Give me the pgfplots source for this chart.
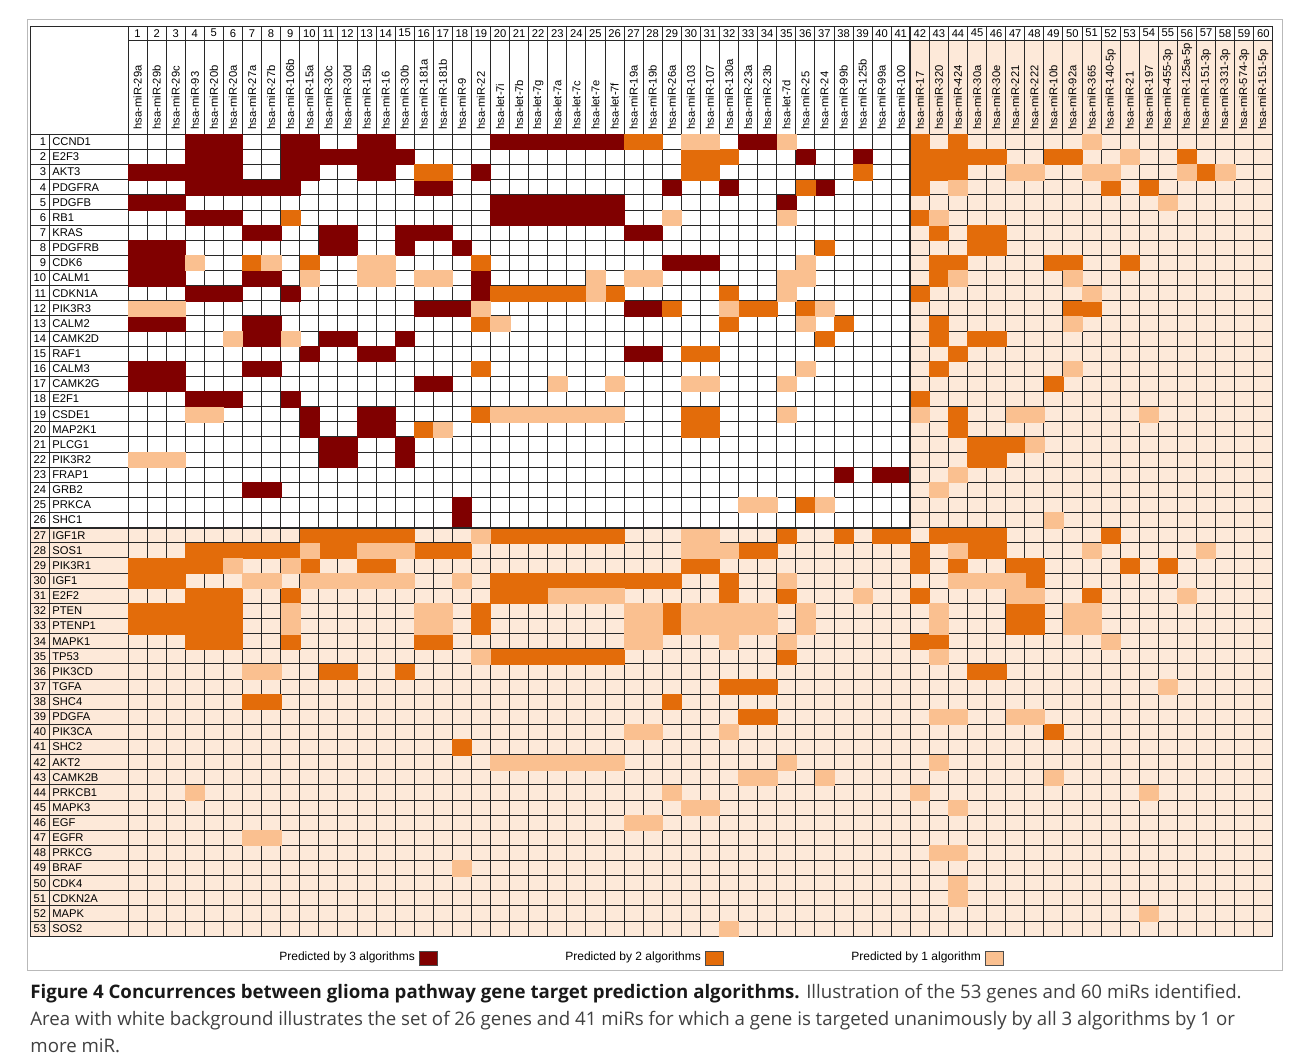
\documentclass[border=0pt]{standalone}
\usepackage{fontspec}
\setmainfont{Liberation Sans}
\newfontfamily\capfont{Open Sans}
\usepackage{pgfplots}
\pgfplotsset{compat=1.18}
\definecolor{cthree}{RGB}{128,0,0}
\definecolor{ctwo}{RGB}{227,108,10}
\definecolor{cone}{RGB}{250,192,144}
\definecolor{cbg}{RGB}{253,233,217}
\definecolor{gridc}{RGB}{40,40,40}
\newcommand{\tbl}{\fontsize{5.6}{6.5}\selectfont}
\pgfplotsset{cell/.style={only marks, mark=square*, mark size=0.5pt,
  mark options={fill=#1, draw=#1, line width=0.1pt, xscale=9.54, yscale=7.565},
  legend image code/.code={\fill[#1, draw=black!70, line width=0.3pt] (0pt,-3.5pt) rectangle (9pt,3.5pt);}}}
\begin{document}
\begin{tikzpicture}[x=1pt,y=1pt]
\useasboundingbox (0,0) rectangle (645,531);
\fill[white] (0,0) rectangle (645,531);
\draw[gray!55, line width=0.5pt] (13.5,46) rectangle (641,521);
% backgrounds
\fill[cbg] (15,62.905) rectangle (636.4,267.16);
\fill[cbg] (455.14,267.16) rectangle (636.4,510.75);
\begin{axis}[at={(64pt,463.85pt)}, anchor=north west,
  x=9.54pt, y=7.565pt, y dir=reverse,
  xmin=0.5, xmax=60.5, ymin=0.5, ymax=53.5,
  axis on top, clip=false,
  xtick={0.5,1.5,...,60.5}, ytick={0.5,1.5,...,53.5},
  xticklabels={}, yticklabels={}, major tick length=0pt,
  grid=major, grid style={gridc, line width=0.45pt},
  axis line style={gridc, line width=0.45pt},
  legend columns=3, legend plot pos=right,
  legend style={at={(0.1284,-0.0272)}, anchor=west, draw=none, fill=none,
    inner sep=0pt, font=\fontsize{6}{7}\selectfont,
    /tikz/every even column/.append style={column sep=62pt}},
]
\addplot[cell=cthree] coordinates {
(4,1)(5,1)(6,1)(9,1)(10,1)(13,1)(14,1)(20,1)(21,1)(22,1)(23,1)(24,1)(25,1)(26,1)(33,1)(34,1)
(4,2)(5,2)(6,2)(9,2)(10,2)(11,2)(12,2)(13,2)(14,2)(15,2)(36,2)(39,2)
(1,3)(2,3)(3,3)(4,3)(5,3)(6,3)(9,3)(10,3)(13,3)(14,3)(19,3)
(4,4)(5,4)(6,4)(7,4)(8,4)(9,4)(16,4)(17,4)(29,4)(32,4)(37,4)
(1,5)(2,5)(3,5)(20,5)(21,5)(22,5)(23,5)(24,5)(25,5)(26,5)(35,5)
(4,6)(5,6)(6,6)(20,6)(21,6)(22,6)(23,6)(24,6)(25,6)(26,6)
(7,7)(8,7)(11,7)(12,7)(15,7)(16,7)(17,7)(27,7)(28,7)
(1,8)(2,8)(3,8)(11,8)(12,8)(15,8)(18,8)
(1,9)(2,9)(3,9)(29,9)(30,9)(31,9)
(1,10)(2,10)(3,10)(7,10)(8,10)(19,10)
(4,11)(5,11)(6,11)(9,11)(19,11)
(16,12)(17,12)(18,12)(27,12)(28,12)
(1,13)(2,13)(3,13)(7,13)(8,13)
(7,14)(8,14)(11,14)(12,14)(15,14)
(10,15)(13,15)(14,15)(27,15)(28,15)
(1,16)(2,16)(3,16)(7,16)(8,16)
(1,17)(2,17)(3,17)(16,17)(17,17)
(4,18)(5,18)(6,18)(9,18)
(10,19)(13,19)(14,19)
(10,20)(13,20)(14,20)
(11,21)(12,21)(15,21)
(11,22)(12,22)(15,22)
(38,23)(40,23)(41,23)
(7,24)(8,24)
(18,25)(18,26)
};
\addlegendentry{Predicted by 3 algorithms}
\addplot[cell=ctwo] coordinates {
(27,1)(28,1)(42,1)(44,1)
(30,2)(31,2)(32,2)(42,2)(43,2)(44,2)(45,2)(46,2)(49,2)(50,2)(56,2)
(16,3)(17,3)(30,3)(31,3)(39,3)(42,3)(43,3)(44,3)(57,3)
(36,4)(42,4)(52,4)(54,4)
(9,6)(42,6)
(43,7)(45,7)(46,7)
(37,8)(45,8)(46,8)
(7,9)(10,9)(19,9)(43,9)(44,9)(49,9)(50,9)(53,9)
(43,10)
(20,11)(21,11)(22,11)(23,11)(24,11)(26,11)(32,11)(42,11)
(29,12)(33,12)(34,12)(36,12)(50,12)(51,12)
(19,13)(32,13)(38,13)(43,13)
(37,14)(43,14)(45,14)(46,14)
(30,15)(31,15)(44,15)
(19,16)(43,16)
(49,17)
(42,18)
(19,19)(30,19)(31,19)(44,19)
(16,20)(30,20)(31,20)(44,20)
(45,21)(46,21)(47,21)
(45,22)(46,22)
(36,25)
(10,27)(11,27)(12,27)(13,27)(14,27)(15,27)(20,27)(21,27)(22,27)(23,27)(24,27)(25,27)(26,27)(35,27)(38,27)(40,27)(41,27)(43,27)(44,27)(45,27)(46,27)(52,27)
(4,28)(5,28)(6,28)(7,28)(8,28)(9,28)(11,28)(12,28)(16,28)(17,28)(18,28)(33,28)(34,28)(42,28)(45,28)(46,28)
(1,29)(2,29)(3,29)(4,29)(5,29)(10,29)(13,29)(14,29)(30,29)(31,29)(42,29)(44,29)(47,29)(48,29)(53,29)(55,29)
(1,30)(2,30)(3,30)(20,30)(21,30)(22,30)(23,30)(24,30)(25,30)(26,30)(27,30)(28,30)(29,30)(32,30)(48,30)
(4,31)(5,31)(6,31)(9,31)(20,31)(21,31)(22,31)(32,31)(35,31)(42,31)(51,31)
(1,32)(2,32)(3,32)(4,32)(5,32)(6,32)(19,32)(29,32)(47,32)(48,32)
(1,33)(2,33)(3,33)(4,33)(5,33)(6,33)(19,33)(29,33)(47,33)(48,33)
(4,34)(5,34)(6,34)(9,34)(16,34)(17,34)(42,34)(43,34)
(20,35)(21,35)(22,35)(23,35)(24,35)(25,35)(26,35)(35,35)
(11,36)(12,36)(15,36)(45,36)(46,36)
(32,37)(33,37)(34,37)
(7,38)(8,38)(29,38)
(33,39)(34,39)
(49,40)
(18,41)
};
\addlegendentry{Predicted by 2 algorithms}
\addplot[cell=cone] coordinates {
(30,1)(31,1)(35,1)(51,1)
(53,2)
(47,3)(48,3)(51,3)(52,3)(56,3)(58,3)
(44,4)
(55,5)
(29,6)(35,6)(43,6)
(4,9)(8,9)(13,9)(14,9)(36,9)
(10,10)(13,10)(14,10)(16,10)(17,10)(25,10)(27,10)(28,10)(35,10)(36,10)(44,10)(50,10)
(25,11)(35,11)(51,11)
(1,12)(2,12)(3,12)(19,12)(32,12)(37,12)
(20,13)(36,13)(50,13)
(6,14)(9,14)
(36,16)(50,16)
(23,17)(26,17)(30,17)(31,17)(35,17)
(4,19)(5,19)(20,19)(21,19)(22,19)(23,19)(24,19)(25,19)(26,19)(35,19)(42,19)(47,19)(48,19)(54,19)
(17,20)
(48,21)
(1,22)(2,22)(3,22)
(44,23)
(43,24)
(33,25)(34,25)(37,25)
(49,26)
(19,27)(30,27)(31,27)
(10,28)(13,28)(14,28)(15,28)(30,28)(31,28)(32,28)(44,28)(51,28)(57,28)
(6,29)(9,29)
(7,30)(8,30)(10,30)(11,30)(12,30)(13,30)(14,30)(15,30)(18,30)(35,30)(44,30)(45,30)(46,30)(47,30)
(23,31)(24,31)(25,31)(26,31)(39,31)(47,31)(48,31)(56,31)
(9,32)(16,32)(17,32)(27,32)(28,32)(30,32)(31,32)(32,32)(33,32)(34,32)(36,32)(43,32)(50,32)(51,32)
(9,33)(16,33)(17,33)(27,33)(28,33)(30,33)(31,33)(32,33)(33,33)(34,33)(36,33)(43,33)(50,33)(51,33)
(27,34)(28,34)(32,34)(35,34)(52,34)
(19,35)(43,35)
(7,36)(8,36)
(55,37)
(43,39)(44,39)(47,39)(48,39)
(27,40)(28,40)(32,40)
(20,42)(21,42)(22,42)(23,42)(24,42)(25,42)(26,42)(35,42)(43,42)
(33,43)(34,43)(37,43)(49,43)
(4,44)(29,44)(42,44)(54,44)
(30,45)(31,45)(44,45)
(27,46)(28,46)
(7,47)(8,47)
(43,48)(44,48)
(18,49)
(44,50)
(44,51)
(54,52)
(32,53)
};
\addlegendentry{Predicted by 1 algorithm}
\end{axis}
% header and label grid lines
\begin{scope}[gridc, line width=0.45pt]
\foreach \i in {0,...,53} \draw (15,{463.85-\i*7.565}) -- (64,{463.85-\i*7.565});
\draw (15,62.905) -- (15,518);
\draw (24.5,62.905) -- (24.5,463.85);
\foreach \i in {0,...,60} \draw ({64+\i*9.54},463.85) -- ({64+\i*9.54},518);
\draw (15,518) -- (636.4,518);
\draw (64,510.75) -- (636.4,510.75);
\end{scope}
\draw[gridc, line width=1pt] (15,267.16) -- (455.14,267.16) -- (455.14,518);
% column headers
\foreach \n [count=\i] in {hsa-miR-29a,hsa-miR-29b,hsa-miR-29c,hsa-miR-93,hsa-miR-20b,hsa-miR-20a,hsa-miR-27a,hsa-miR-27b,hsa-miR-106b,hsa-miR-15a,hsa-miR-30c,hsa-miR-30d,hsa-miR-15b,hsa-miR-16,hsa-miR-30b,hsa-miR-181a,hsa-miR-181b,hsa-miR-9,hsa-miR-22,hsa-let-7i,hsa-let-7b,hsa-let-7g,hsa-let-7a,hsa-let-7c,hsa-let-7e,hsa-let-7f,hsa-miR-19a,hsa-miR-19b,hsa-miR-26a,hsa-miR-103,hsa-miR-107,hsa-miR-130a,hsa-miR-23a,hsa-miR-23b,hsa-let-7d,hsa-miR-25,hsa-miR-24,hsa-miR-99b,hsa-miR-125b,hsa-miR-99a,hsa-miR-100,hsa-miR-17,hsa-miR-320,hsa-miR-424,hsa-miR-30a,hsa-miR-30e,hsa-miR-221,hsa-miR-222,hsa-miR-10b,hsa-miR-92a,hsa-miR-365,hsa-miR-140-5p,hsa-miR-21,hsa-miR-197,hsa-miR-455-3p,hsa-miR-125a-5p,hsa-miR-151-3p,hsa-miR-331-3p,hsa-miR-574-3p,hsa-miR-151-5p} {
  \node[rotate=90, anchor=west, inner sep=0pt, font=\tbl] at ({64+(\i-0.5)*9.54},466) {\n};
  \node[inner sep=0pt, font=\tbl] at ({64+(\i-0.5)*9.54},514.4) {\i};
}
% row labels
\foreach \g [count=\i] in {CCND1,E2F3,AKT3,PDGFRA,PDGFB,RB1,KRAS,PDGFRB,CDK6,CALM1,CDKN1A,PIK3R3,CALM2,CAMK2D,RAF1,CALM3,CAMK2G,E2F1,CSDE1,MAP2K1,PLCG1,PIK3R2,FRAP1,GRB2,PRKCA,SHC1,IGF1R,SOS1,PIK3R1,IGF1,E2F2,PTEN,PTENP1,MAPK1,TP53,PIK3CD,TGFA,SHC4,PDGFA,PIK3CA,SHC2,AKT2,CAMK2B,PRKCB1,MAPK3,EGF,EGFR,PRKCG,BRAF,CDK4,CDKN2A,MAPK,SOS2} {
  \node[anchor=east, inner sep=0pt, font=\tbl] at (23.3,{463.85-(\i-0.5)*7.565}) {\i};
  \node[anchor=west, inner sep=0pt, font=\tbl] at (26,{463.85-(\i-0.5)*7.565}) {\g};
}
% caption
\begin{scope}[every node/.style={anchor=base west, inner sep=0pt, font=\capfont\fontsize{9.33}{13.5}\selectfont, text=black!75}]
\node at (15,32) {\textbf{\color{black!90}Figure 4 Concurrences between glioma pathway gene target prediction algorithms.} Illustration of the 53 genes and 60 miRs identified.};
\node at (15,18.5) {Area with white background illustrates the set of 26 genes and 41 miRs for which a gene is targeted unanimously by all 3 algorithms by 1 or};
\node at (15,5) {more miR.};
\end{scope}
\end{tikzpicture}
\end{document}
